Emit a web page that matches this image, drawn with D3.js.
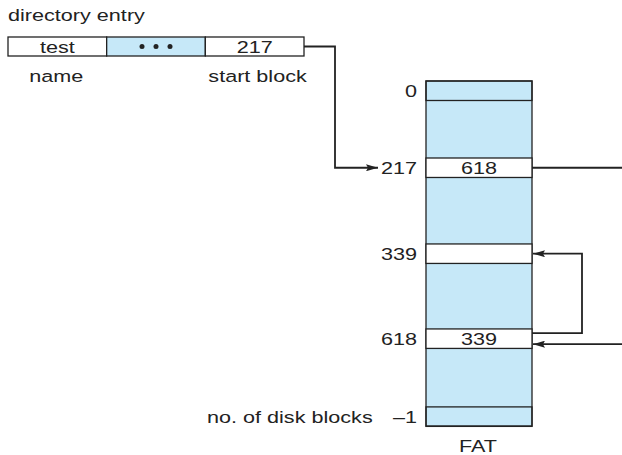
<!DOCTYPE html>
<html>
<head>
<meta charset="utf-8">
<script src="https://cdn.jsdelivr.net/npm/d3@7"></script>
<style>
  body { margin: 0; background: #fff; }
  svg { display: block; }
</style>
</head>
<body>
<svg id="chart"></svg>
<script>
// directory entry fields
const dirFields = ["test", "•••", "217"];
const dirLabels = ["name", "", "start block"];

// FAT rows that are shown (others are blank blue space)
const fatLabels = ["0", "217", "339", "618", "\u20131"];
const fatValues = ["", "618", "", "339", ""];
const fatInChain = [false, true, true, true, false];
const fatRowPos = [0, 3.95, 8.36, 12.72, 16.72];   // position in row units
const fatRows = 17.7;

const width = 622, height = 455;
const ink = "#222", blue = "#c6e8f8";
const sx = 1.31;   // the original lettering is drawn wide

const svg = d3.select("#chart").attr("width", width).attr("height", height)
    .attr("font-family", "Liberation Sans, Arial, sans-serif")
    .attr("font-size", 16.5);

svg.append("defs").append("marker")
    .attr("id", "arrow")
    .attr("viewBox", "0 0 12 7")
    .attr("refX", 12).attr("refY", 3.5)
    .attr("markerWidth", 12).attr("markerHeight", 7)
    .attr("markerUnits", "userSpaceOnUse")
    .attr("orient", "auto")
    .append("path").attr("d", "M0,0L12,3.5L0,7L2,3.5Z").attr("fill", ink);

function label(x, y, txt, anchor) {
    svg.append("text")
        .attr("transform", "translate(" + x + "," + y + ") scale(" + sx + ",1)")
        .attr("text-anchor", anchor || "start")
        .attr("fill", ink)
        .text(txt);
}

// ---- directory entry ----
const dirX = d3.scaleBand().domain(d3.range(dirFields.length)).range([8, 304]);
const dirTop = 37, dirH = 19;

label(8, 21, "directory entry");

svg.selectAll(".dircell").data(dirFields).join("rect")
    .attr("x", (d, i) => dirX(i))
    .attr("y", dirTop)
    .attr("width", dirX.bandwidth())
    .attr("height", dirH)
    .attr("fill", (d, i) => d === "•••" ? blue : "#fff")
    .attr("stroke", ink).attr("stroke-width", 1.3);

dirFields.forEach((d, i) => {
    const cx = dirX(i) + dirX.bandwidth() / 2;
    if (d === "•••") {
        [-14, 0, 14].forEach(o => svg.append("circle")
            .attr("cx", cx + o).attr("cy", dirTop + dirH / 2).attr("r", 2.5).attr("fill", ink));
    } else {
        label(cx, dirTop + dirH / 2 + 6, d, "middle");
    }
    if (dirLabels[i] === "name") label(cx - 1, 82, dirLabels[i], "middle");
    if (dirLabels[i] === "start block") label(dirX(i) + 3, 82, dirLabels[i]);
});

// ---- FAT ----
const fatLeft = 426, fatRight = 532;
const y = d3.scaleLinear().domain([0, fatRows]).range([81, 426]);
const rowH = y(1) - y(0);

svg.append("rect")
    .attr("x", fatLeft).attr("y", y(0))
    .attr("width", fatRight - fatLeft).attr("height", y(fatRows) - y(0))
    .attr("fill", blue).attr("stroke", ink).attr("stroke-width", 1.3);

fatLabels.forEach((lab, i) => {
    const top = y(fatRowPos[i]);
    svg.append("rect")
        .attr("x", fatLeft).attr("y", top)
        .attr("width", fatRight - fatLeft).attr("height", rowH)
        .attr("fill", fatInChain[i] ? "#fff" : "none")
        .attr("stroke", ink).attr("stroke-width", 1.3);
    label(417, top + rowH / 2 + 6, lab, "end");
    if (fatValues[i]) label((fatLeft + fatRight) / 2, top + rowH / 2 + 6, fatValues[i], "middle");
});

label(207, y(fatRowPos[4]) + rowH / 2 + 6, "no. of disk blocks");
label((fatLeft + fatRight) / 2 - 1, 452, "FAT", "middle");

// ---- pointers ----
const mid = i => y(fatRowPos[i]) + rowH / 2;
const line = d3.line();
const iStart = fatLabels.indexOf(dirFields[2]);
const i618 = fatLabels.indexOf("618");
const i339 = fatLabels.indexOf("339");
const lw = 1.8;

svg.append("path")
    .attr("d", line([[304, dirTop + dirH / 2], [335, dirTop + dirH / 2], [335, mid(iStart)], [378, mid(iStart)]]))
    .attr("fill", "none").attr("stroke", ink).attr("stroke-width", lw)
    .attr("marker-end", "url(#arrow)");

// 217 -> 618 leaves off the right edge and comes back
svg.append("path")
    .attr("d", line([[fatRight, mid(iStart)], [width, mid(iStart)]]))
    .attr("fill", "none").attr("stroke", ink).attr("stroke-width", lw);

svg.append("path")
    .attr("d", line([[width, mid(i618) + 5.5], [fatRight + 1, mid(i618) + 5.5]]))
    .attr("fill", "none").attr("stroke", ink).attr("stroke-width", lw)
    .attr("marker-end", "url(#arrow)");

// 618 -> 339 loop
svg.append("path")
    .attr("d", line([[fatRight, mid(i618) - 5.5], [582, mid(i618) - 5.5], [582, mid(i339)], [fatRight + 1, mid(i339)]]))
    .attr("fill", "none").attr("stroke", ink).attr("stroke-width", lw)
    .attr("marker-end", "url(#arrow)");
</script>
</body>
</html>
